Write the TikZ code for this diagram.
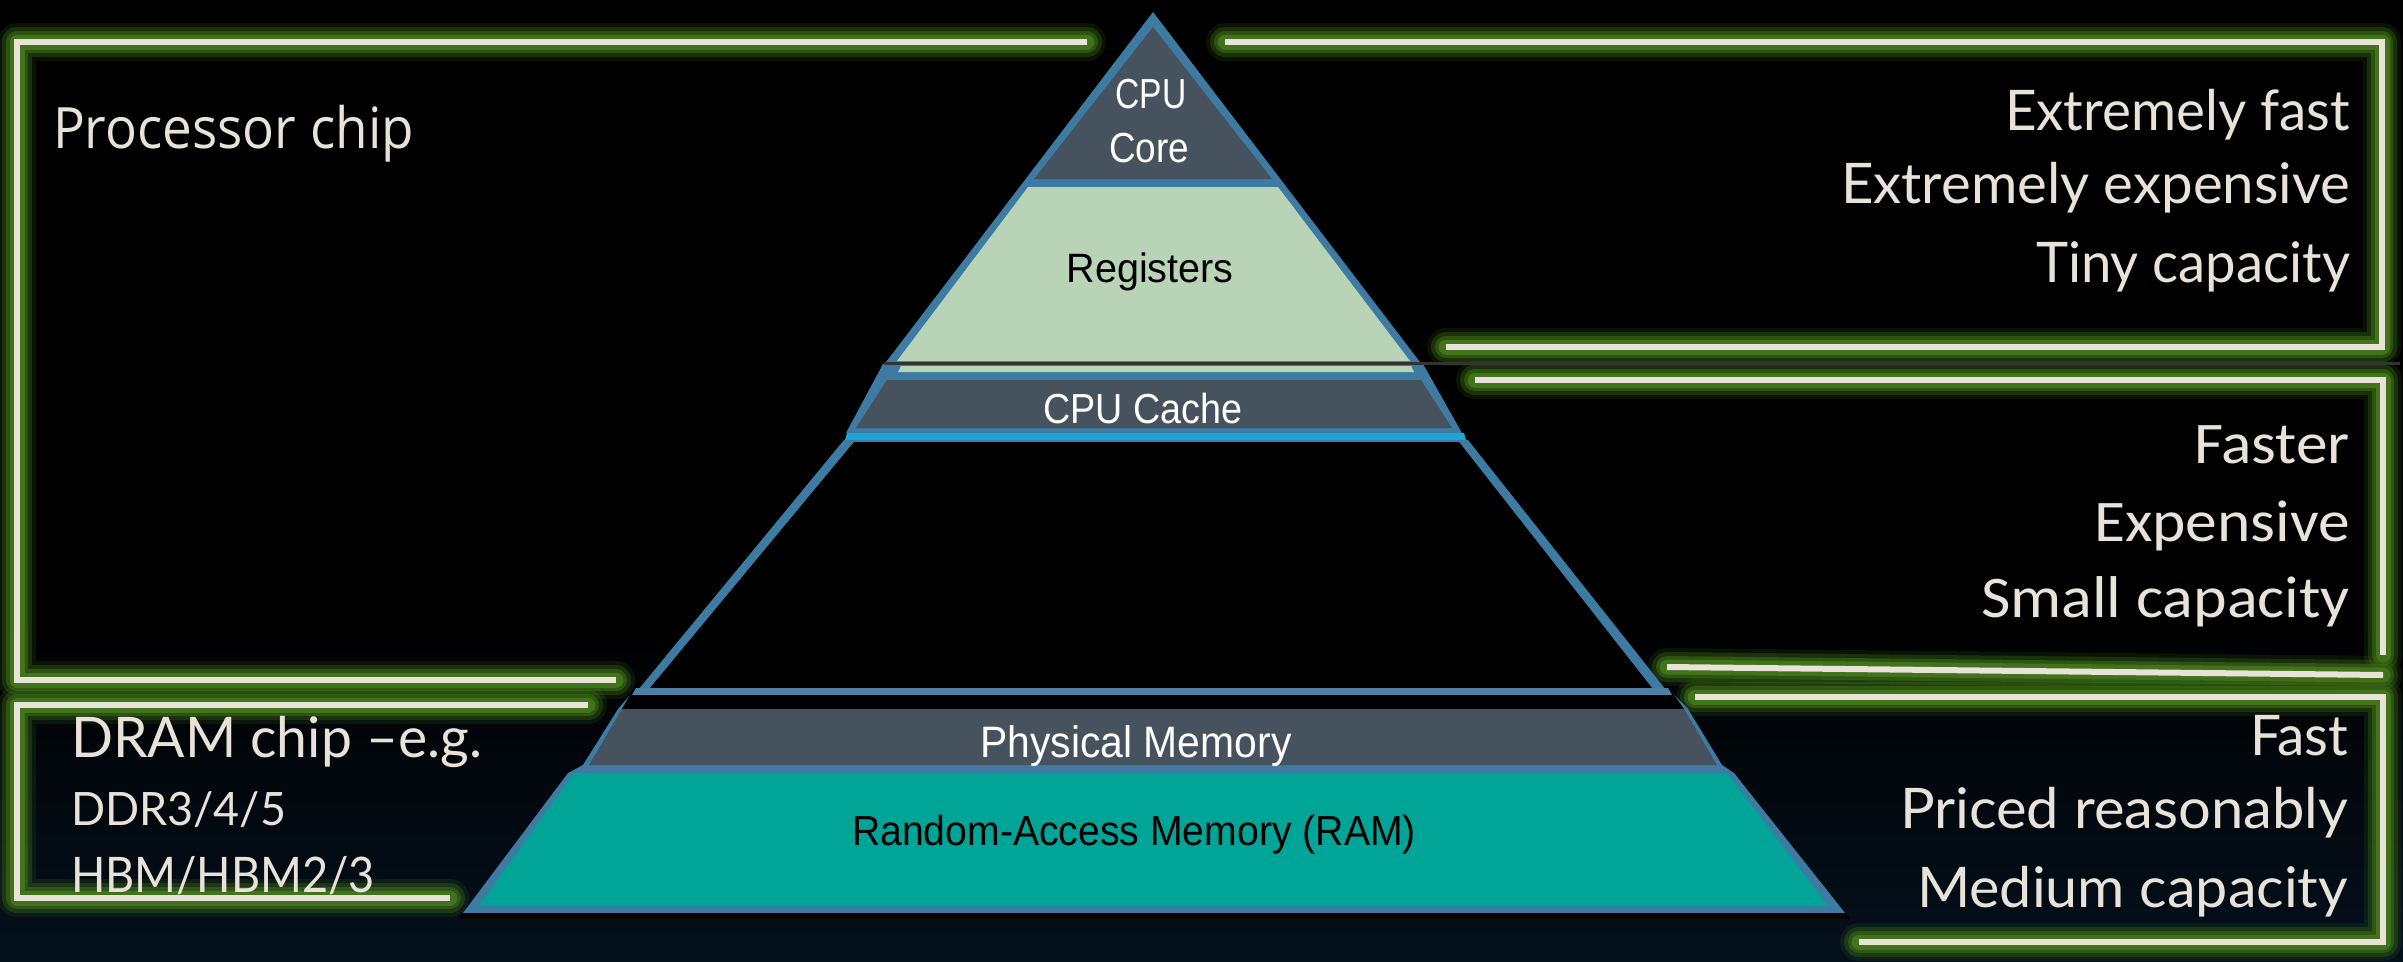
\documentclass[tikz,border=0pt]{standalone}
\usepackage{fontspec}
\usepackage{graphicx}
\newfontfamily\pyrfont{Liberation Sans}
\newfontfamily\procfont{Open Sans}
\newfontfamily\twfont{Lato}
\newfontfamily\calfont{Carlito}
\newlength\fitlen
\newcommand\fitx[2]{\settowidth\fitlen{#2}\scalebox{\fpeval{#1/\fitlen}}[1]{#2}}
\newcommand\fsz[1]{\fontsize{#1}{#1}\selectfont}
\definecolor{pblue}{HTML}{3D7BA2}
\definecolor{bandblue}{HTML}{4D80A3}
\definecolor{pgray}{HTML}{47525F}
\definecolor{pgreen}{HTML}{B9D3B6}
\definecolor{pteal}{HTML}{00A597}
\definecolor{pcyan}{HTML}{1BA6DB}
\definecolor{cream}{HTML}{E8E2D8}
\definecolor{glowA}{HTML}{3A6B16}
\definecolor{glowB}{HTML}{44791C}
\definecolor{navy}{HTML}{03101C}
\definecolor{sepline}{HTML}{333333}
\tikzset{
  glowline/.style={
    preaction={draw=glowA, line width=38pt, opacity=.18, line cap=round, line join=round},
    preaction={draw=glowA, line width=30pt, opacity=.35, line cap=round, line join=round},
    preaction={draw=glowA, line width=22pt, opacity=.6, line cap=round, line join=round},
    preaction={draw=glowB, line width=15pt, opacity=.85, line cap=round, line join=round},
    draw=cream, line width=6pt, line cap=butt, line join=miter},
  lab/.style={inner sep=0pt, outer sep=0pt},
  wlab/.style={lab, text=white, font=\pyrfont\fsz{42}},
  blab/.style={lab, text=black, font=\pyrfont\fsz{41}},
  ctext/.style={lab, text=cream}
}
\begin{document}
\begin{tikzpicture}[x=1pt,y=-1pt]
\useasboundingbox (0,0) rectangle (2403,961);
\fill[black] (0,0) rectangle (2403,961);
\shade[top color=black, bottom color=navy] (0,620) rectangle (2403,961);

% brackets
\draw[glowline] (1087,42) -- (17,42) -- (17,680) -- (616,680);
\draw[glowline] (1225,42) -- (2382,42) -- (2382,347) -- (1446,347);
\draw[glowline] (1475,380) -- (2383,380) -- (2383,655);
\draw[glowline] (1667,667) -- (2383,675);
\draw[glowline] (1695,697) -- (2383,697) -- (2383,942) -- (1859,942);
\draw[glowline] (588,705) -- (17,705) -- (17,898) -- (450,898);

% upper triangle
\fill[pblue] (1153,12) -- (1423,366) -- (883,366) -- cycle;
\fill[pgray] (1153,27) -- (1272,179) -- (1034,179) -- cycle;
\fill[pgreen] (1028,187) -- (1278,187) -- (1410,361) -- (897,361) -- cycle;
% cache section
\fill[pblue] (883,364) -- (1423,364) -- (1462,433) -- (846,433) -- cycle;
\fill[pgreen] (901,366) -- (1411,366) -- (1414,372) -- (898,372) -- cycle;
\fill[pgray] (887,380) -- (1421,380) -- (1452,428) -- (856,428) -- cycle;
\fill[pcyan] (847,433) -- (1464,433) -- (1466,440) -- (845,440) -- cycle;
\draw[sepline, line width=3pt] (884,363) -- (2400,363);
% empty section
\fill[pblue] (844,440) -- (1468,440) -- (1666,690) -- (638,690) -- cycle;
\fill[black] (854,442) -- (1459,442) -- (1652,688) -- (650,688) -- cycle;
\fill[bandblue] (636,688) -- (1668,688) -- (1672,695) -- (632,695) -- cycle;
% memory section
\fill[pblue] (630,695) -- (1674,695) -- (1688,709) -- (1722,765) -- (1734,773) -- (1845,913)
  -- (463,913) -- (568,773) -- (583,765) -- (618,709) -- cycle;
\fill[black] (630,695) -- (1674,695) -- (1684,709) -- (622,709) -- cycle;
\fill[pgray] (622,709) -- (1684,709) -- (1717,765) -- (589,765) -- cycle;
\fill[pteal] (574,773) -- (1727,773) -- (1828,906) -- (479,906) -- cycle;
\fill[black] (462,913) -- (1846,913) -- (1850,919) -- (458,919) -- cycle;

% pyramid labels
\node[wlab, anchor=base] (cpu) at (1151,108) {\fitx{71pt}{CPU}};
\node[wlab, anchor=base] (core) at (1149,162) {\fitx{80pt}{Core}};
\node[blab, anchor=base] (reg) at (1150,282) {\fitx{167pt}{Registers}};
\node[wlab, anchor=base] (cache) at (1143,423) {\fitx{199pt}{CPU Cache}};
\node[wlab, anchor=base, font=\pyrfont\fsz{44}] (phys) at (1136,757) {\fitx{311pt}{Physical Memory}};
\node[blab, anchor=base, font=\pyrfont\fsz{42}] (ram) at (1134,845) {\fitx{564pt}{Random-Access Memory (RAM)}};

% left texts
\node[ctext, anchor=base west, font=\procfont\fsz{57}] (proc) at (53,148) {\fitx{361pt}{Processor chip}};
\node[ctext, anchor=base west, font=\twfont\fsz{56}] (dram) at (71,757) {\fitx{411pt}{DRAM chip –e.g.}};
\node[ctext, anchor=base west, font=\twfont\fsz{46}] (ddr) at (71,825) {\fitx{215pt}{DDR3/4/5}};
\node[ctext, anchor=base west, font=\twfont\fsz{49}] (hbm) at (71,892) {\fitx{304pt}{HBM/HBM2/3}};

% right texts
\node[ctext, anchor=base east, font=\twfont\fsz{56}] (r1a) at (2350,130) {\fitx{345pt}{Extremely fast}};
\node[ctext, anchor=base east, font=\twfont\fsz{56}] (r1b) at (2350,203) {\fitx{509pt}{Extremely expensive}};
\node[ctext, anchor=base east, font=\twfont\fsz{56}] (r1c) at (2350,282) {\fitx{314pt}{Tiny capacity}};
\node[ctext, anchor=base east, font=\calfont\fsz{59}] (r2a) at (2350,463) {\fitx{156pt}{Faster}};
\node[ctext, anchor=base east, font=\calfont\fsz{59}] (r2b) at (2350,541) {\fitx{256pt}{Expensive}};
\node[ctext, anchor=base east, font=\calfont\fsz{59}] (r2c) at (2350,617) {\fitx{369pt}{Small capacity}};
\node[ctext, anchor=base east, font=\twfont\fsz{56}] (r3a) at (2348,755) {\fitx{98pt}{Fast}};
\node[ctext, anchor=base east, font=\twfont\fsz{56}] (r3b) at (2348,828) {\fitx{448pt}{Priced reasonably}};
\node[ctext, anchor=base east, font=\twfont\fsz{56}] (r3c) at (2348,907) {\fitx{431pt}{Medium capacity}};
\end{tikzpicture}
\end{document}
